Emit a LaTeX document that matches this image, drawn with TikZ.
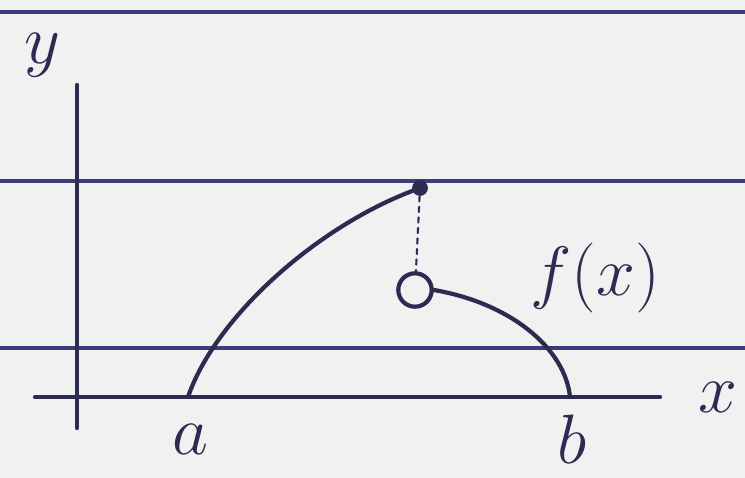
\documentclass[tikz,border=0pt]{standalone}
\usepackage{amsmath,amssymb}
\usepackage{tikz}
\usetikzlibrary{positioning,arrows.meta,calc}
\definecolor{paper}{HTML}{F1F1F1}
\definecolor{rule}{HTML}{3C3C78}
\definecolor{ink}{HTML}{2C2C52}

\begin{document}
\begin{tikzpicture}[
    pen/.style={draw=ink, line width=2.4pt, line cap=round},
    lbl/.style={text=ink, font=\Huge, scale=1.6},
    dotpt/.style={circle, fill=ink, inner sep=0pt, minimum size=9pt},
    holept/.style={circle, draw=ink, line width=2.4pt, fill=paper, inner sep=0pt, minimum size=19pt}
  ]
        % Paper
        \fill[paper] (0,0) rectangle (14.9,9.56);
        \useasboundingbox (0,0) rectangle (14.9,9.56);
        \foreach \h in {9.32,5.94,2.60}
          \draw[rule, line width=2pt] (0,\h) -- (14.9,\h);

        % Axes
        \coordinate (xl) at (0.7,1.62);
        \coordinate (xr) at (13.2,1.62);
        \coordinate (yb) at (1.54,1.0);
        \coordinate (yt) at (1.54,7.86);
        \draw[pen] (xl) -- (xr);
        \draw[pen] (yb) -- (yt);
        \node[lbl] (ylab) at (0.85,8.45) {$y$};
        \node[lbl] (xlab) at (14.35,1.62) {$x$};

        % End points
        \coordinate (a) at (3.76,1.62);
        \coordinate (b) at (11.4,1.62);
        \node[lbl] (alab) at (3.8,0.78) {$a$};
        \node[lbl] (blab) at (11.45,0.78) {$b$};

        % Jump
        \node[dotpt] (top) at (8.4,5.8) {};
        \node[holept] (hole) at (8.3,3.76) {};
        \draw[pen, line width=1.2pt, dashed] (top) -- (hole);

        % Curve
        \draw[pen] (a) .. controls (4.3,3.2) and (6.3,5.0) .. (top);
        \draw[pen] (hole.east) .. controls (10.2,3.5) and (11.3,2.6) .. (b);
        \node[lbl] (flab) at (11.9,4.0) {$f(x)$};
      \end{tikzpicture}
\end{document}
